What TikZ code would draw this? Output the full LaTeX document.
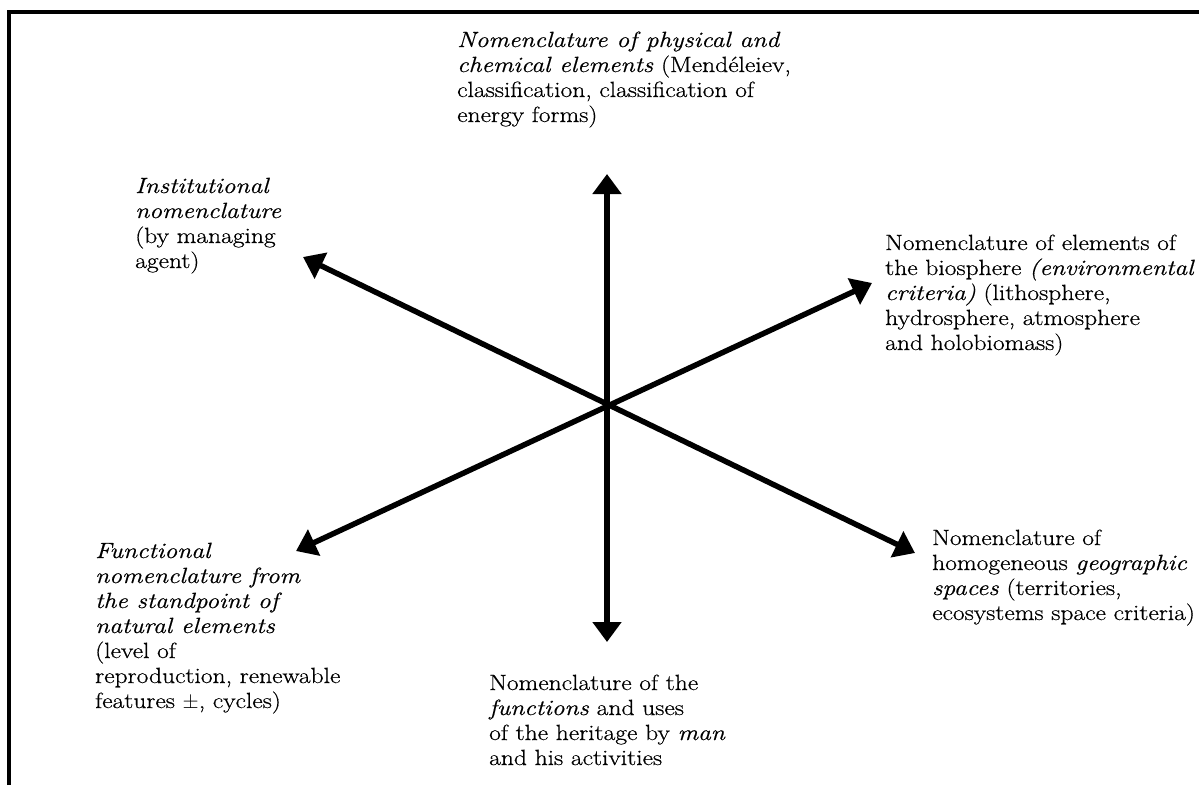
\documentclass[tikz,border=0pt]{standalone}
\usepackage{fontspec}
\setmainfont{Latin Modern Roman}[FakeStretch=1.16,FakeBold=0.6]
\usetikzlibrary{arrows.meta}
\begin{document}
\begin{tikzpicture}[x=1pt,y=-1pt,
  lbl/.style={anchor=base west, align=left, inner sep=0pt, font=\fontsize{22}{25}\selectfont},
  arr/.style={line width=5.5pt, {Triangle[length=20pt,width=28pt]}-{Triangle[length=20pt,width=28pt]}},
  frameline/.style={line width=3.5pt}]
\useasboundingbox (0,0) rectangle (1199,785);
% frame (top and left edges)
\coordinate (fbl) at (9,785);
\coordinate (ftl) at (9,12);
\coordinate (ftr) at (1199,12);
\draw[frameline] (fbl) -- (ftl) -- (ftr);
% arrow end points
\coordinate (c) at (607,406);
\coordinate (up) at (607,174);
\coordinate (dn) at (607,642);
\coordinate (ul) at (303,257);
\coordinate (lr) at (915,553);
\coordinate (ur) at (872,283);
\coordinate (ll) at (296,551);
\draw[arr] (up) -- (dn);
\draw[arr] (ul) -- (lr);
\draw[arr] (ur) -- (ll);
% labels (anchored at the baseline of their last line)
\node[lbl] (top) at (457,122) {\textit{Nomenclature of physical and}\\\textit{chemical elements} (Mend\'eleiev,\\classification, classification of\\energy forms)};
\node[lbl] (tl) at (135,268) {\textit{Institutional}\\\textit{nomenclature}\\(by managing\\agent)};
\node[lbl] (tr) at (885,350) {Nomenclature of elements of\\the biosphere \textit{(environmental}\\\textit{criteria)} (lithosphere,\\hydrosphere, atmosphere\\and holobiomass)};
\node[lbl] (bl) at (95,708) {\textit{Functional}\\\textit{nomenclature from}\\\textit{the standpoint of}\\\textit{natural elements}\\(level of\\reproduction, renewable\\features $\pm$, cycles)};
\node[lbl] (br) at (932,620) {Nomenclature of\\homogeneous \textit{geographic}\\\textit{spaces} (territories,\\ecosystems space criteria)};
\node[lbl] (bot) at (489,765) {Nomenclature of the\\\textit{functions} and uses\\of the heritage by \textit{man}\\and his activities};
\end{tikzpicture}
\end{document}
